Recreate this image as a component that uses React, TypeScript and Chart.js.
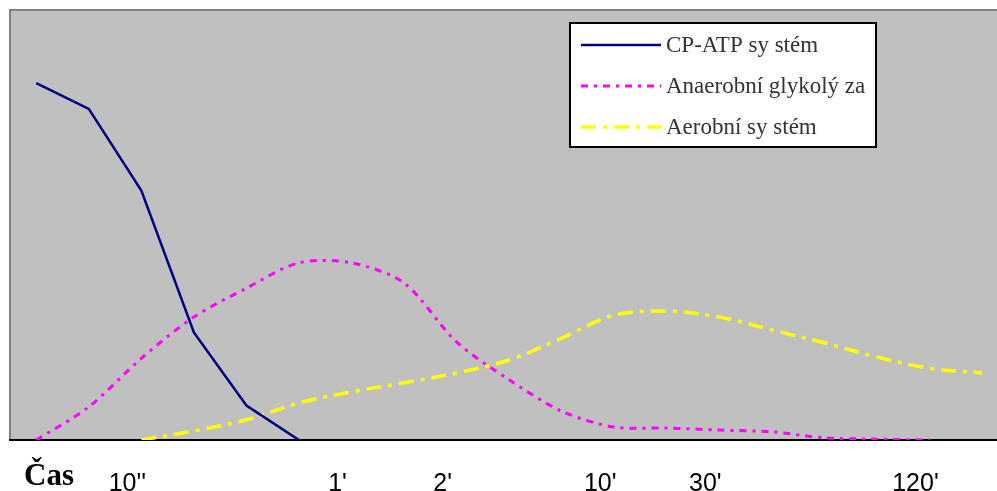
import React, { useEffect, useRef } from "react";
import { Chart, registerables } from "chart.js";

Chart.register(...registerables);

// ---- data ----
const categories = [
  "c0", "c1", "c2", "c3", "c4", "c5", "c6", "c7", "c8", "c9",
  "c10", "c11", "c12", "c13", "c14", "c15", "c16", "c17", "c18",
];
const tickLabels = [
  "", "", "10''", "", "", "", "1'", "", "2'", "",
  "", "10'", "", "30'", "", "", "", "120'", "",
];
const cpAtp = [83, 77, 58, 25, 8, 0, null, null, null, null, null, null, null, null, null, null, null, null, null];
const anaerobic = [0, 7.7, 19, 28.6, 35.3, 41.2, 41.2, 36.5, 22.8, 14, 6.7, 3, 2.8, 2.3, 1.9, 0.5, 0.2, 0, null];
const aerobic = [null, null, 0, 2.1, 4.7, 8.6, 11.2, 13.3, 15.6, 18.6, 23.7, 29, 30, 28.6, 25.6, 22.6, 19.3, 16.7, 15.6];
const seriesNames = ["CP-ATP sy stém", "Anaerobní glykolý za", "Aerobní sy stém"];
const axisTitle = "Čas";

const plotBg = {
  id: "plotBg",
  beforeDraw(chart: any) {
    const { ctx, chartArea } = chart;
    ctx.save();
    ctx.fillStyle = "#c0c0c0";
    ctx.fillRect(chartArea.left, chartArea.top, chartArea.right - chartArea.left, chartArea.bottom - chartArea.top);
    ctx.strokeStyle = "#808080";
    ctx.lineWidth = 2;
    ctx.beginPath();
    ctx.moveTo(chartArea.left, chartArea.bottom);
    ctx.lineTo(chartArea.left, chartArea.top);
    ctx.lineTo(chartArea.right, chartArea.top);
    ctx.stroke();
    ctx.restore();
  },
};

const boxLegend = {
  id: "boxLegend",
  afterDraw(chart: any) {
    const { ctx } = chart;
    const x0 = 570, y0 = 23, w = 306, h = 124;
    ctx.save();
    ctx.fillStyle = "#ffffff";
    ctx.fillRect(x0, y0, w, h);
    ctx.strokeStyle = "#000000";
    ctx.lineWidth = 2;
    ctx.strokeRect(x0, y0, w, h);
    const rows = [45, 86, 127];
    chart.data.datasets.forEach((ds: any, i: number) => {
      const y = rows[i];
      ctx.strokeStyle = ds.borderColor;
      ctx.lineWidth = ds.borderWidth;
      ctx.setLineDash(ds.borderDash || []);
      ctx.beginPath();
      ctx.moveTo(581, y);
      ctx.lineTo(661, y);
      ctx.stroke();
      ctx.setLineDash([]);
      ctx.fillStyle = "#333333";
      ctx.font = "23px 'Liberation Serif'";
      ctx.textBaseline = "middle";
      ctx.textAlign = "left";
      ctx.fillText(ds.label, 666, y + 1);
    });
    ctx.fillStyle = "#000000";
    ctx.font = "bold 31px 'Liberation Serif'";
    ctx.textBaseline = "alphabetic";
    ctx.fillText(axisTitle, 24, 485);
    ctx.restore();
  },
};

export default function App() {
  const ref = useRef<HTMLCanvasElement>(null);
  useEffect(() => {
    if (!ref.current) return;
    const chart = new Chart(ref.current, {
      type: "line",
      data: {
        labels: categories,
        datasets: [
          {
            label: seriesNames[0],
            data: cpAtp,
            borderColor: "#000080",
            borderWidth: 2.5,
            pointRadius: 0,
            tension: 0,
            fill: false,
          },
          {
            label: seriesNames[1],
            data: anaerobic,
            borderColor: "#ff00ff",
            borderWidth: 3,
            borderDash: [7, 6, 3, 6],
            pointRadius: 0,
            tension: 0.3,
            fill: false,
          },
          {
            label: seriesNames[2],
            data: aerobic,
            borderColor: "#ffff00",
            borderWidth: 3.5,
            borderDash: [15, 7, 4, 7],
            pointRadius: 0,
            tension: 0.35,
            fill: false,
          },
        ],
      },
      options: {
        animation: false,
        responsive: false,
        maintainAspectRatio: false,
        layout: { padding: { top: 10, left: 10, right: 0, bottom: 0 } },
        plugins: { legend: { display: false }, tooltip: { enabled: false } },
        scales: {
          x: {
            type: "category",
            offset: true,
            grid: { display: false, drawTicks: false },
            border: { display: true, color: "#000000", width: 2 },
            afterFit: (scale: any) => {
              scale.height = 51;
            },
            ticks: {
              autoSkip: false,
              maxRotation: 0,
              minRotation: 0,
              padding: 29,
              labelOffset: -14,
              color: "#000000",
              font: { family: "'Liberation Sans'", size: 25 },
              callback: (_v: any, i: number) => tickLabels[i],
            },
          },
          y: {
            display: false,
            min: 0,
            max: 100,
          },
        },
      },
      plugins: [plotBg, boxLegend],
    });
    return () => chart.destroy();
  }, []);
  return (
    <div style={{ position: "fixed", left: 0, top: 0, width: 997, height: 491, overflow: "hidden", background: "#fff" }}>
      <canvas ref={ref} width={1011} height={491} style={{ display: "block" }} />
    </div>
  );
}
